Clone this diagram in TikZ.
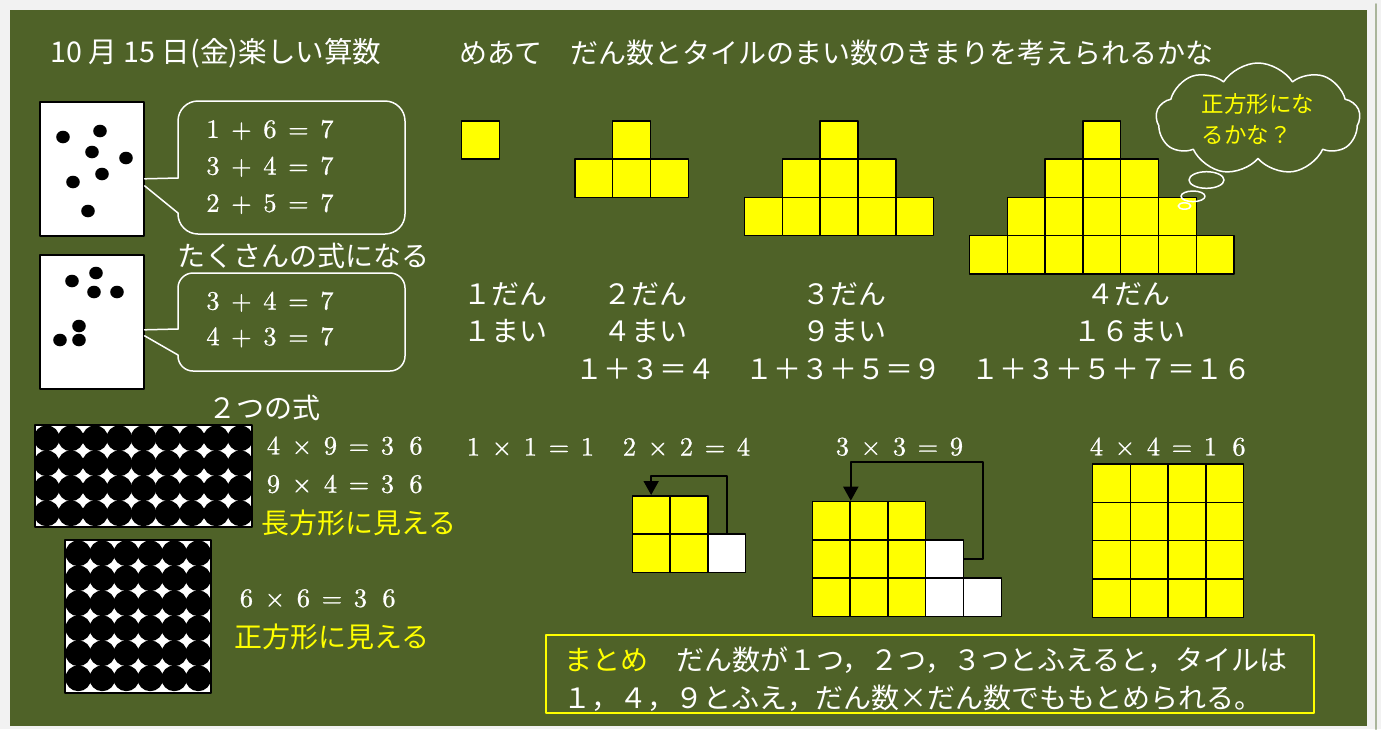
\documentclass[tikz,border=0pt]{standalone}
\usepackage{fontspec}
\newfontfamily\jpfont{Noto Sans CJK JP}
\newfontfamily\eqfont{lmroman10-regular.otf}[FakeBold=0.8]
\usetikzlibrary{calc,arrows.meta,shapes.symbols}
\definecolor{boardgreen}{RGB}{79,98,40}
\definecolor{pagegray}{RGB}{242,242,242}
\definecolor{edgegray}{RGB}{170,181,155}
\definecolor{chalkyellow}{RGB}{255,255,0}
\newcommand{\fwrow}[2][28.5pt]{\foreach \ch in {#2}{\makebox[#1]{\ch}}}
\tikzset{
  every picture/.style={line cap=round,line join=round},
  jp/.style={font=\jpfont\fontsize{28}{34}\selectfont,text=white,inner sep=0pt},
  jpyellow/.style={jp,text=chalkyellow},
  titletext/.style={jp,font=\jpfont\fontsize{28.6}{32}\selectfont},
  eqn/.style={font=\eqfont\fontsize{26.5}{30}\selectfont,text=white,
    inner sep=0pt,anchor=west},
  card/.style={draw=black,fill=white,line width=1.6pt,inner sep=0pt,
    anchor=north west,minimum width=104pt,minimum height=134pt},
  dotfill/.style={fill=black},
  dotframe/.style={draw=black,line width=1.6pt},
  bubble/.style={draw=white,line width=1.5pt},
  tile/.style={draw=black,fill=chalkyellow,line width=1.5pt,inner sep=0pt,
    anchor=north west,minimum width=37.8pt,minimum height=38.3pt},
  blanktile/.style={tile,fill=white},
  flow/.style={draw=black,line width=1.8pt,-{Triangle[length=14pt,width=15pt]}},
  thought/.style={cloud,draw=white,line width=1.5pt,cloud puffs=9,
    cloud puff arc=115,cloud ignores aspect,minimum width=204pt,
    minimum height=112pt,inner sep=0pt,align=left,text=chalkyellow,
    font=\jpfont\fontsize{22.5}{31}\selectfont},
  summary/.style={draw=chalkyellow,line width=1.6pt,anchor=north west,
    minimum width=768pt,minimum height=78pt,inner sep=0pt}
}
\begin{document}
\begin{tikzpicture}[x=1pt,y=-1pt]
  \useasboundingbox (0,0) rectangle (1381,729);
  \fill[pagegray] (0,0) rectangle (1381,729);
  \fill[boardgreen] (10,10) rectangle (1367,726);
  \draw[edgegray,line width=2pt] (1376,4) -- (1376,729);

  % Heading and the aim of the lesson.
  \node[titletext] (title) at (216,53) {10 月 15 日(金)楽しい算数};
  \node[jp] (aim) at (836.6,53)
    {めあて　だん数とタイルのまい数のきまりを考えられるかな};

  % Two dot cards with the sums they give.
  \node[card] (card1) at (39,101) {};
  \foreach \x/\y in {63/137,100/131,92/152,126/158,102/174,73/182,88/211}
    \fill[dotfill] (\x,\y) ellipse [x radius=6.8pt,y radius=6.3pt];
  \draw[bubble,rounded corners=20pt] (178,178) -- (178,101) -- (405,101)
    -- (405,234) -- (178,234) -- (178,213);
  \draw[bubble] (178,178) -- ($(card1.east)+(0,10)$);
  \draw[bubble] ($(card1.east)+(0,17)$) -- (178,213);
  \node[eqn] (eq1) at (198.5,130) {\fwrow{1,+,6,=,7}};
  \node[eqn] (eq2) at (198.5,166.7) {\fwrow{3,+,4,=,7}};
  \node[eqn] (eq3) at (198.5,204) {\fwrow{2,+,5,=,7}};
  \node[jp] (many) at (303.3,256) {たくさんの式になる};

  \node[card] (card2) at (39,254) {};
  \foreach \x/\y in {72/281,96/273,94/292,117/292,79/326,60/340,79/340}
    \fill[dotfill] (\x,\y) ellipse [x radius=6.8pt,y radius=6.3pt];
  \draw[bubble,rounded corners=15pt] (178,329) -- (178,273) -- (405,273)
    -- (405,371) -- (178,371) -- (178,355);
  \draw[bubble] (178,329) -- ($(card2.east)+(0,8)$);
  \draw[bubble] ($(card2.east)+(0,14)$) -- (178,355);
  \node[eqn] (eq4) at (198.5,301.7) {\fwrow{3,+,4,=,7}};
  \node[eqn] (eq5) at (198.5,337.3) {\fwrow{4,+,3,=,7}};
  \node[jp] (two) at (264.8,408) {２つの式};

  % Thirty-six dots as a rectangle and as a square.
  \begin{scope}
    \clip (35,425) rectangle (252,527);
    \fill[white] (35,425) rectangle (252,527);
    \foreach \i in {0,...,8}
      \foreach \j in {0,...,3}
        \fill[dotfill] ({46.7+24.2*\i},{438.3+25*\j}) circle [radius=12.9pt];
  \end{scope}
  \draw[dotframe] (35,425) rectangle (252,527);
  \node[eqn] (eq6) at (259,445.7) {\fwrow{4,×,9,=,3,6}};
  \node[eqn] (eq7) at (259,484) {\fwrow{9,×,4,=,3,6}};
  \node[jpyellow] (oblong) at (359.2,522.7) {長方形に見える};

  \begin{scope}
    \clip (65,540) rectangle (211,693);
    \fill[white] (65,540) rectangle (211,693);
    \foreach \i in {0,...,5}
      \foreach \j in {0,...,5}
        \fill[dotfill] ({78.3+24*\i},{553.3+25*\j}) circle [radius=12.9pt];
  \end{scope}
  \draw[dotframe] (65,540) rectangle (211,693);
  \node[eqn] (eq8) at (232,598.3) {\fwrow{6,×,6,=,3,6}};
  \node[jpyellow] (square) at (331.7,636.7) {正方形に見える};

  % Tile staircases with one to four steps.
  \foreach \n/\cx in {1/479.85,2/630.85,3/838.35,4/1101}{
    \foreach \r in {1,...,\n}{
      \pgfmathtruncatemacro{\m}{2*\r-1}
      \foreach \k in {1,...,\m}{
        \node[tile] (py\n-\r-\k) at ({\cx+(\k-1-\m/2)*37.8},{120+(\r-1)*38.3}) {};
      }
    }
  }

  % Thought cloud over the last staircase.
  \node[thought] (wonder) at (1258,119) {正方形にな\\るかな？};
  \draw[bubble] (1206.5,180) ellipse [x radius=17.5pt,y radius=8.3pt];
  \draw[bubble] (1193,196.3) ellipse [x radius=12pt,y radius=5.3pt];
  \draw[bubble] (1184.5,206) ellipse [x radius=6.3pt,y radius=3.2pt];

  % Steps, tile counts and sums.
  \node[jp] (st1) at (505.8,294) {１だん};
  \node[jp] (ct1) at (505.8,331) {１まい};
  \node[jp] (st2) at (645.3,294) {２だん};
  \node[jp] (ct2) at (645.3,331) {４まい};
  \node[jp] (st3) at (844.5,294) {３だん};
  \node[jp] (ct3) at (844.5,331) {９まい};
  \node[jp] (st4) at (1128.3,294) {４だん};
  \node[jp] (ct4) at (1129.3,331) {１６まい};
  \node[jp] (sm2) at (645.2,369) {１＋３＝４};
  \node[jp] (sm3) at (843.2,369) {１＋３＋５＝９};
  \node[jp] (sm4) at (1111.6,369) {１＋３＋５＋７＝１６};

  % The staircases folded into squares.
  \node[eqn] (sq1) at (459,446.7) {\fwrow{1,×,1,=,1}};
  \node[eqn] (sq2) at (615,446.7) {\fwrow{2,×,2,=,4}};
  \node[eqn] (sq3) at (828,446.7) {\fwrow{3,×,3,=,9}};
  \node[eqn] (sq4) at (1082,446.7) {\fwrow{4,×,4,=,1,6}};

  \foreach \i in {0,1}
    \foreach \j in {0,1}
      \node[tile] (q2-\i-\j) at ({631.5+37.8*\i},{495+38.3*\j}) {};
  \node[blanktile] (q2w) at (707.1,533.3) {};
  \draw[flow] (q2w.north) |- ($(q2-0-0.north)+(0,-19)$) -- (q2-0-0.north);

  \foreach \i in {0,1,2}
    \foreach \j in {0,1,2}
      \node[tile] (q3-\i-\j) at ({811.5+37.8*\i},{500.7+38.3*\j}) {};
  \node[blanktile] (q3w1) at (924.9,539) {};
  \node[blanktile] (q3w2) at (924.9,577.3) {};
  \node[blanktile] (q3w3) at (962.7,577.3) {};
  \draw[flow] (q3w1.east) -- ++(19,0)
    |- ($(q3-0-0.north east)+(0,-38.4)$) -- (q3-0-0.north east);

  \foreach \i in {0,...,3}
    \foreach \j in {0,...,3}
      \node[tile] (q4-\i-\j) at ({1091.7+37.8*\i},{463.3+38.3*\j}) {};

  % Summary of the lesson.
  \node[summary] (sumbox) at (545,634) {};
  \node[jp,anchor=west] (sum1) at (564,660)
    {\textcolor{chalkyellow}{まとめ}　だん数が１つ，２つ，３つとふえると，タイルは};
  \node[jp,anchor=west] (sum2) at (563,698)
    {１，４，９とふえ，だん数×だん数でももとめられる。};
\end{tikzpicture}
\end{document}
